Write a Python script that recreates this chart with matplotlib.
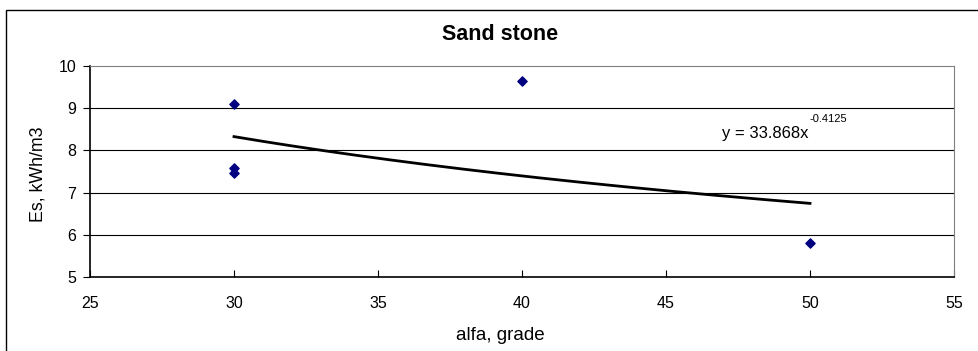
import numpy as np
import matplotlib.pyplot as plt
from matplotlib.patches import Rectangle

plt.rcParams["font.family"] = ["Liberation Sans", "DejaVu Sans"]

# measured points
alfa = [30, 30, 30, 40, 50]
energy = [9.1, 7.58, 7.46, 9.65, 5.81]

# power trendline as printed on the chart: y = a * x^b
trend_a = 33.868
trend_b = -0.4125
trend_text = "y = 33.868x"
trend_exp = "-0.4125"

x_ticks = [25, 30, 35, 40, 45, 50, 55]
y_ticks = [5, 6, 7, 8, 9, 10]

W, H = 979, 351
fig = plt.figure(figsize=(W / 100, H / 100), dpi=100)
ax = fig.add_axes([90 / W, 1 - 277 / H, (954 - 90) / W, (277 - 66) / H])

# chart border (Excel chart area, right/bottom edges cut off)
fig.patches.append(Rectangle((6 / W, -0.1), 1.2, 1 - 10 / H + 0.1,
                             transform=fig.transFigure, fill=False,
                             edgecolor="black", linewidth=1.0))

for v in y_ticks[1:-1]:
    ax.axhline(v, color="black", linewidth=0.8, zorder=1)

tx = np.linspace(min(alfa), max(alfa), 200)
ax.plot(tx, trend_a * tx ** trend_b, color="black", linewidth=2.0, zorder=2)

ax.scatter(alfa, energy, marker="D", s=22, color="#000080", zorder=3)

ax.set_xlim(25, 55)
ax.set_ylim(5, 10)
ax.set_xticks(x_ticks)
ax.set_yticks(y_ticks)
ax.tick_params(axis="x", direction="in", length=5, labelsize=11.5, pad=14)
ax.tick_params(axis="y", direction="out", length=5, labelsize=11.5, pad=5)

for side in ["top", "right"]:
    ax.spines[side].set_color("#808080")
for side in ["left", "bottom"]:
    ax.spines[side].set_color("black")
    ax.spines[side].set_linewidth(1.2)

fig.text(500 / W, 1 - 335 / H, "alfa, grade", ha="center", va="center", fontsize=13.5)
fig.text(38 / W, 1 - 174 / H, "Es, kWh/m3", ha="center", va="center",
         rotation=90, fontsize=12.8)

fig.text(500 / W, 1 - 34 / H, "Sand stone", ha="center", va="center",
         fontsize=15.5, fontweight="bold")
fig.text(722 / W, 1 - 138 / H, trend_text, ha="left", va="baseline", fontsize=12)
fig.text(810 / W, 1 - 122 / H, trend_exp, ha="left", va="baseline", fontsize=8)

fig.savefig("out.png", dpi=100)
